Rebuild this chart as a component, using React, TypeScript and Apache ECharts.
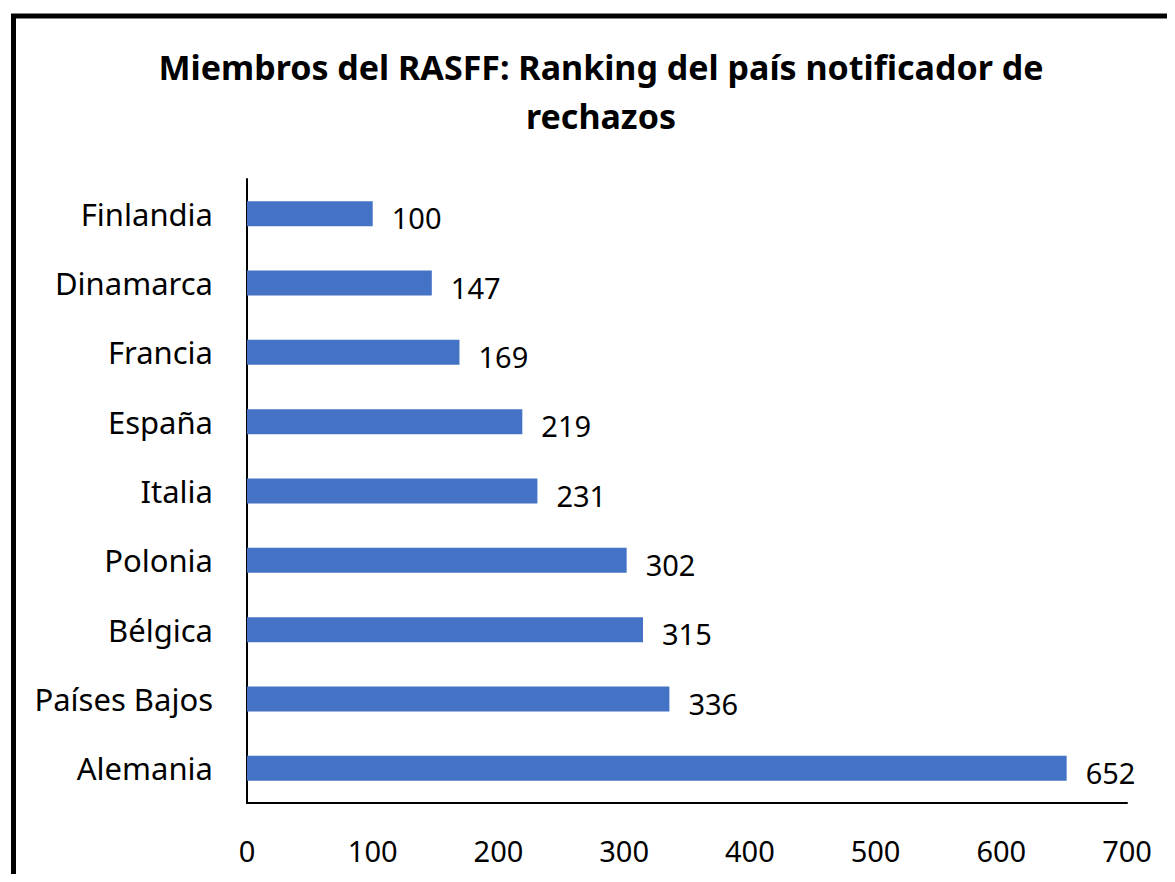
import React, { useEffect, useRef } from "react";
import * as echarts from "echarts";

const categories = ["Finlandia", "Dinamarca", "Francia", "España", "Italia", "Polonia", "Bélgica", "Países Bajos", "Alemania"];
const values = [100, 147, 169, 219, 231, 302, 315, 336, 652];
const titleLines = ["Miembros del RASFF: Ranking del país notificador de", "rechazos"];
const xTicks = { min: 0, max: 700, interval: 100 };

const FONT = "'Noto Sans', 'Open Sans', sans-serif";

export default function App() {
  const ref = useRef<HTMLDivElement>(null);
  useEffect(() => {
    if (!ref.current) return;
    const chart = echarts.init(ref.current, null, { renderer: "svg" });
    chart.setOption({
      animation: false,
      backgroundColor: "#ffffff",
      graphic: [
        {
          type: "rect",
          shape: { x: 5.5, y: 8, width: 1300, height: 1000 },
          style: { fill: "none", stroke: "#000000", lineWidth: 5 },
          silent: true,
        },
        {
          type: "text",
          x: 593,
          y: 59,
          style: {
            text: titleLines[0],
            fontFamily: FONT,
            fontWeight: "bold",
            fontSize: 34,
            fill: "#000000",
            textAlign: "center",
            textVerticalAlign: "middle",
          },
        },
        {
          type: "text",
          x: 593,
          y: 108,
          style: {
            text: titleLines[1],
            fontFamily: FONT,
            fontWeight: "bold",
            fontSize: 34,
            fill: "#000000",
            textAlign: "center",
            textVerticalAlign: "middle",
          },
        },
      ],
      grid: { left: 239, right: 48, top: 171, bottom: 71, containLabel: false },
      xAxis: {
        type: "value",
        min: xTicks.min,
        max: xTicks.max,
        interval: xTicks.interval,
        axisLine: { show: true, lineStyle: { color: "#000000", width: 2 } },
        axisTick: { show: false },
        splitLine: { show: false },
        axisLabel: { fontFamily: FONT, fontSize: 29, color: "#000000", margin: 33 },
      },
      yAxis: {
        type: "category",
        data: categories,
        inverse: true,
        axisLine: { show: true, lineStyle: { color: "#000000", width: 2 } },
        axisTick: { show: false },
        axisLabel: { fontFamily: FONT, fontSize: 31, color: "#000000", margin: 34 },
      },
      series: [
        {
          type: "bar",
          data: values,
          barWidth: 25,
          itemStyle: { color: "#4472C4" },
          label: {
            show: true,
            position: "right",
            distance: 19,
            offset: [0, 4],
            fontFamily: FONT,
            fontSize: 29,
            color: "#000000",
          },
        },
      ],
    });
    return () => chart.dispose();
  }, []);
  return <div ref={ref} style={{ width: 1167, height: 866 }} />;
}
